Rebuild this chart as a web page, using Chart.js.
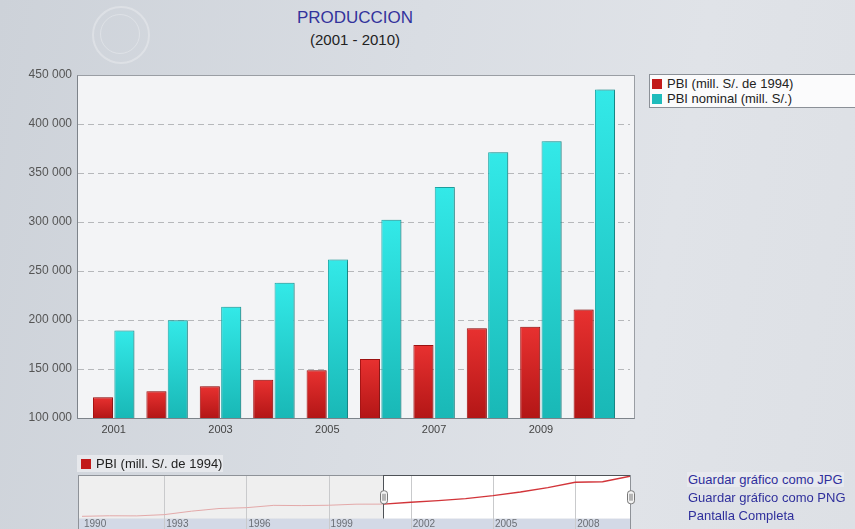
<!DOCTYPE html>
<html lang="es">
<head>
<meta charset="utf-8">
<title>PRODUCCION (2001 - 2010)</title>
<script src="https://cdn.jsdelivr.net/npm/chart.js@4.4.1/dist/chart.umd.min.js"></script>
<style>
  html, body { margin: 0; padding: 0; }
  body {
    width: 855px; height: 529px; overflow: hidden; position: relative;
    font-family: "Liberation Sans", Arial, sans-serif;
    background: linear-gradient(100deg, #cdd2d9 0%, #d9dde3 45%, #e0e3e8 75%, #dde0e5 100%);
  }
  .abs { position: absolute; }
  #main { left: 0; top: 0; }
  #nav { left: 70px; top: 470px; }
  .title { left: 235px; width: 240px; text-align: center; white-space: nowrap; }
  #t1 { top: 8px; font-size: 17px; color: #33339c; }
  #t2 { top: 31px; font-size: 15px; color: #222; }
  .logo { border-radius: 50%; border: 2px solid rgba(255,255,255,0.28); }
  .legend {
    left: 649px; top: 74px; width: 220px; height: 34px;
    background: #fbfbfc; border: 1px solid #8b9097; box-sizing: border-box;
  }
  .item { position: absolute; left: 2px; font-size: 13px; line-height: 15px; color: #222; white-space: nowrap; }
  .sw { display: inline-block; width: 10px; height: 10px; margin-right: 5px; vertical-align: -1px; }
  .navlegend {
    left: 77px; top: 455px; width: 146px; height: 17px;
    background: #e6e8ec; color: #222;
  }
  .links { left: 688px; font-size: 13px; color: #2f2f9c; white-space: nowrap; }
</style>
</head>
<body>
<div class="abs logo" style="left:92px;top:6px;width:54px;height:54px;"></div>
<div class="abs logo" style="left:100px;top:14px;width:38px;height:38px;border-width:1px;"></div>

<div class="abs title" id="t1">PRODUCCION</div>
<div class="abs title" id="t2">(2001 - 2010)</div>

<canvas id="main" class="abs" width="855" height="529"></canvas>

<div class="abs legend">
  <div class="item" style="top:1px;"><span class="sw" style="background:#c21a1a"></span>PBI (mill. S/. de 1994)</div>
  <div class="item" style="top:16px;"><span class="sw" style="background:#1fbcbc"></span>PBI nominal (mill. S/.)</div>
</div>

<div class="abs navlegend"><span class="item" style="top:1px;left:4px;"><span class="sw" style="background:#c21a1a"></span>PBI (mill. S/. de 1994)</span></div>
<canvas id="nav" class="abs" width="575" height="59"></canvas>

<div class="abs links" style="top:472px;background:#e7e9ee;padding:0 1px;left:687px;">Guardar gráfico como JPG</div>
<div class="abs links" style="top:490px;">Guardar gráfico como PNG</div>
<div class="abs links" style="top:508px;">Pantalla Completa</div>

<script>
// Años del gráfico principal
const years = ['2001', '2002', '2003', '2004', '2005', '2006', '2007', '2008', '2009', '2010'];
// PBI real (millones de S/. de 1994)
const pbiReal = [121300, 127400, 132500, 139100, 148600, 160100, 174400, 191500, 193200, 210800];
// PBI nominal (millones de S/.)
const pbiNominal = [189200, 199700, 213400, 237900, 261700, 302300, 335800, 371300, 382400, 435300];
// Valores del eje Y
const yTicks = [100000, 150000, 200000, 250000, 300000, 350000, 400000, 450000];

// Serie larga del navegador (1990 - 2010)
const navYears = [1990, 1991, 1992, 1993, 1994, 1995, 1996, 1997, 1998, 1999, 2000,
                  2001, 2002, 2003, 2004, 2005, 2006, 2007, 2008, 2009, 2010];
const pbiReal1990s = [82000, 83800, 83400, 87400, 98600, 107100, 109800, 117300, 116500, 117600, 121100];
const navValues = pbiReal1990s.concat(pbiReal);
const navTicks = [1990, 1993, 1996, 1999, 2002, 2005, 2008];
const selectionStart = 2001, selectionEnd = 2010;

const fmt = v => String(v).replace(/\B(?=(\d{3})+(?!\d))/g, ' ');

// Degradado vertical por barra
function barGradient(top, bottom) {
  return ctx => {
    const chart = ctx.chart;
    if (!chart.chartArea || ctx.type !== 'data') return bottom;
    const y = chart.scales.y;
    const y0 = y.getPixelForValue(ctx.raw);
    const y1 = y.getPixelForValue(y.min);
    const g = chart.ctx.createLinearGradient(0, y0, 0, y1);
    g.addColorStop(0, top);
    g.addColorStop(1, bottom);
    return g;
  };
}

// Marco del área de trazado, rejilla punteada y sombra de las barras
const frameMain = {
  id: 'frameMain',
  beforeDraw(chart) {
    const { ctx, chartArea: a } = chart;
    const L = 77, R = 634;
    ctx.save();
    ctx.fillStyle = '#f3f4f6';
    ctx.fillRect(L, a.top, R - L, a.bottom - a.top);
    ctx.strokeStyle = '#b6b8bb';
    ctx.lineWidth = 1;
    ctx.setLineDash([6, 4]);
    const y = chart.scales.y;
    yTicks.forEach(v => {
      if (v === y.min || v === y.max) return;
      const py = Math.round(y.getPixelForValue(v)) + 0.5;
      ctx.beginPath(); ctx.moveTo(L + 1, py); ctx.lineTo(R - 4, py); ctx.stroke();
    });
    ctx.setLineDash([]);
    ctx.strokeStyle = '#9a9ea4';
    ctx.strokeRect(L + 0.5, Math.round(a.top) + 0.5, R - L, Math.round(a.bottom - a.top));
    ctx.strokeStyle = '#7d838a';
    ctx.beginPath();
    ctx.moveTo(L + 0.5, Math.round(a.top) + 0.5);
    ctx.lineTo(L + 0.5, Math.round(a.bottom) + 0.5);
    ctx.lineTo(R + 0.5, Math.round(a.bottom) + 0.5);
    ctx.stroke();
    ctx.restore();
  },
  beforeDatasetsDraw(chart) {
    const ctx = chart.ctx;
    ctx.save();
    ctx.shadowColor = 'rgba(0,0,0,0.22)';
    ctx.shadowOffsetX = 2;
    ctx.shadowOffsetY = 0;
    ctx.shadowBlur = 2;
  },
  afterDatasetsDraw(chart) {
    chart.ctx.restore();
  }
};

new Chart(document.getElementById('main'), {
  type: 'bar',
  data: {
    labels: years,
    datasets: [
      {
        label: 'PBI (mill. S/. de 1994)',
        data: pbiReal,
        backgroundColor: barGradient('#e83130', '#b31616'),
        borderColor: '#a51212',
        borderWidth: 1,
        borderSkipped: 'bottom'
      },
      {
        label: 'PBI nominal (mill. S/.)',
        data: pbiNominal,
        backgroundColor: barGradient('#33e9e8', '#19b8b6'),
        borderColor: '#1ea9a8',
        borderWidth: 1,
        borderSkipped: 'bottom'
      }
    ]
  },
  options: {
    responsive: false,
    animation: false,
    datasets: { bar: { categoryPercentage: 0.8, barPercentage: 0.94 } },
    layout: { padding: { left: 0, right: 234, top: 75, bottom: 91 } },
    plugins: { legend: { display: false }, tooltip: { enabled: false }, title: { display: false } },
    scales: {
      x: {
        grid: { display: false, drawTicks: false },
        border: { display: false },
        afterFit: s => { s.height = 20; },
        ticks: {
          autoSkip: false, maxRotation: 0, padding: 5,
          color: '#444', font: { family: 'Liberation Sans', size: 11 },
          callback: (v, i) => (i % 2 === 0 ? years[i] : '')
        }
      },
      y: {
        min: 100000, max: 450000,
        grid: { display: false, drawTicks: false },
        border: { display: false },
        afterFit: s => { s.width = 87; },
        afterBuildTicks: s => { s.ticks = yTicks.map(v => ({ value: v })); },
        ticks: {
          padding: 15, color: '#555',
          font: { family: 'Liberation Sans', size: 12 },
          callback: v => fmt(v)
        }
      }
    }
  },
  plugins: [frameMain]
});

// Navegador inferior con la serie completa
const navFrame = {
  id: 'navFrame',
  beforeDraw(chart) {
    const { ctx, chartArea: a } = chart;
    const x = chart.scales.x;
    const xs = x.getPixelForValue(selectionStart);
    ctx.save();
    ctx.fillStyle = '#d3d9e6';
    ctx.fillRect(a.left - 4, a.bottom, a.right - a.left + 5, chart.height - a.bottom);
    ctx.fillStyle = '#efefef';
    ctx.fillRect(a.left - 4, a.top, xs - a.left + 4, a.bottom - a.top);
    ctx.fillStyle = '#ffffff';
    ctx.fillRect(xs, a.top, a.right - xs, a.bottom - a.top);
    ctx.strokeStyle = '#c9cacc';
    ctx.lineWidth = 1;
    navTicks.forEach(t => {
      if (t === navYears[0]) return;
      const px = Math.round(x.getPixelForValue(t)) + 0.5;
      ctx.beginPath(); ctx.moveTo(px, a.top); ctx.lineTo(px, chart.height); ctx.stroke();
    });
    ctx.restore();
  },
  afterDatasetsDraw(chart) {
    const { ctx, chartArea: a } = chart;
    const x = chart.scales.x;
    const xs = Math.round(x.getPixelForValue(selectionStart)) + 0.5;
    const xe = Math.round(x.getPixelForValue(selectionEnd)) + 0.5;
    ctx.save();
    ctx.strokeStyle = '#8e9298';
    ctx.lineWidth = 1;
    ctx.strokeRect(a.left - 3.5, Math.round(a.top) + 0.5, a.right - a.left + 4, chart.height);
    ctx.strokeStyle = '#4e5257';
    ctx.beginPath();
    ctx.moveTo(xs, a.top); ctx.lineTo(xs, a.bottom);
    ctx.moveTo(xs, a.top + 0.5); ctx.lineTo(xe, a.top + 0.5);
    ctx.stroke();
    ctx.strokeStyle = '#8e9298';
    ctx.beginPath(); ctx.moveTo(xe, a.top); ctx.lineTo(xe, a.bottom); ctx.stroke();
    [xs, xe].forEach(px => {
      const hy = (a.top + a.bottom) / 2 - 6;
      ctx.fillStyle = '#f4f4f4';
      ctx.strokeStyle = '#777';
      ctx.beginPath();
      ctx.roundRect(px - 3, hy, 7, 13, 3);
      ctx.fill(); ctx.stroke();
      ctx.beginPath();
      ctx.moveTo(px - 0.5, hy + 3); ctx.lineTo(px - 0.5, hy + 10);
      ctx.moveTo(px + 1.5, hy + 3); ctx.lineTo(px + 1.5, hy + 10);
      ctx.stroke();
    });
    ctx.restore();
  }
};

new Chart(document.getElementById('nav'), {
  type: 'line',
  data: {
    datasets: [{
      data: navYears.map((yr, i) => ({ x: yr, y: navValues[i] })),
      borderColor: '#d2353a',
      borderWidth: 1.3,
      pointRadius: 0,
      tension: 0,
      segment: {
        borderColor: c => (c.p0.parsed.x < selectionStart ? '#e3a9a9' : '#d2353a'),
        borderWidth: c => (c.p0.parsed.x < selectionStart ? 1 : 1.4)
      }
    }]
  },
  options: {
    responsive: false,
    animation: false,
    layout: { padding: { left: 12, right: 15, top: 5, bottom: 0 } },
    plugins: { legend: { display: false }, tooltip: { enabled: false } },
    scales: {
      x: {
        type: 'linear', min: 1990, max: 2010,
        grid: { display: false, drawTicks: false },
        border: { display: false },
        afterFit: s => { s.height = 10.5; },
        afterBuildTicks: s => { s.ticks = navTicks.map(v => ({ value: v })); },
        ticks: {
          align: 'start', labelOffset: 2, padding: 0, autoSkip: false, maxRotation: 0,
          color: '#6a6e74', font: { family: 'Liberation Sans', size: 10 },
          callback: v => String(v)
        }
      },
      y: { display: false, min: 75000, max: 215000 }
    }
  },
  plugins: [navFrame]
});
</script>
</body>
</html>
